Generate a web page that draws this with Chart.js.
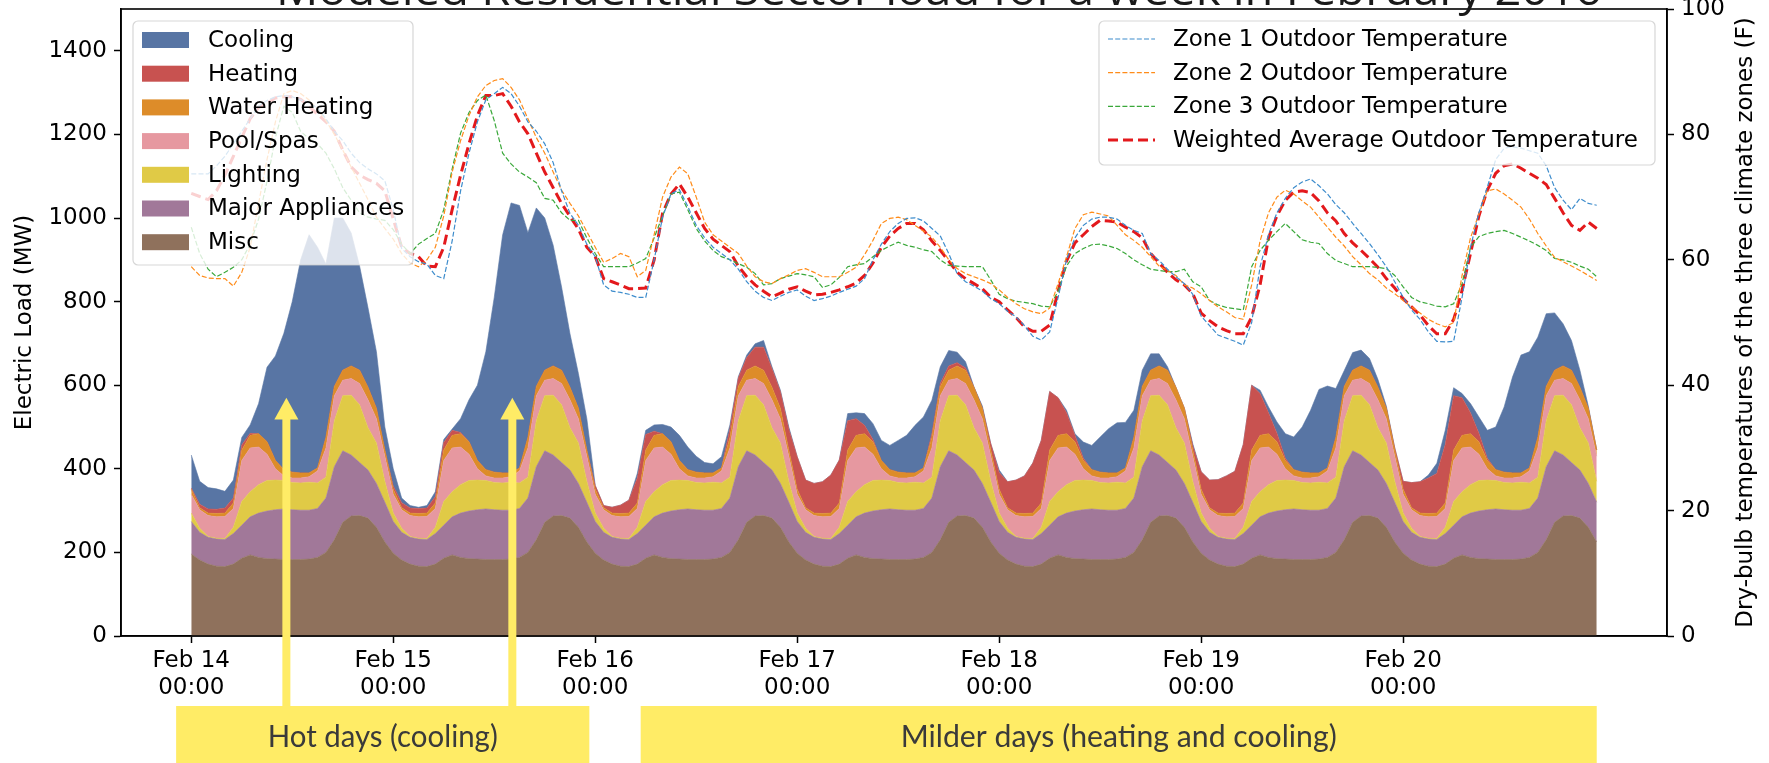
<!DOCTYPE html>
<html>
<head>
<meta charset="utf-8">
<script src="https://cdn.jsdelivr.net/npm/chart.js@4.4.1/dist/chart.umd.min.js"></script>
<style>
  html, body { margin: 0; padding: 0; background: #fff; }
  #wrap { width: 1769px; height: 763px; }
</style>
</head>
<body>
<div id="wrap"><canvas id="loadChart" width="1769" height="763"></canvas></div>
<script>
// hourly values, Feb 14 00:00 .. Feb 20 23:00
const dayLabels = ['Feb 14', 'Feb 15', 'Feb 16', 'Feb 17', 'Feb 18', 'Feb 19', 'Feb 20'];
const dayTicks = [0, 24, 48, 72, 96, 120, 144];
const hours = Array.from({ length: 168 }, (_, i) => i);

// stacked load components (MW)
const misc = [
  196,182,172,167,166,172,186,194,188,185,184,183,183,183,184,188,200,230,272,287,288,282,260,225,
  198,182,172,167,166,172,186,194,188,185,184,183,183,183,184,188,200,230,272,287,288,282,260,225,
  198,182,172,167,166,172,186,194,188,185,184,183,183,183,184,188,200,230,272,287,288,282,260,225,
  198,182,172,167,166,172,186,194,188,185,184,183,183,183,184,188,200,230,272,287,288,282,260,225,
  198,182,172,167,166,172,186,194,188,185,184,183,183,183,184,188,200,230,272,287,288,282,260,225,
  198,182,172,167,166,172,186,194,188,185,184,183,183,183,184,188,200,230,272,287,288,282,260,225,
  198,182,172,167,166,172,186,194,188,185,184,183,183,183,184,188,200,230,272,287,288,282,260,225
];
const appliances = [
  78,66,64,65,65,73,79,91,106,114,118,121,119,118,117,117,130,175,171,146,127,115,105,95,
  76,66,64,65,65,73,79,91,106,114,118,121,119,118,117,117,130,175,171,146,127,115,105,95,
  76,66,64,65,65,73,79,91,106,114,118,121,119,118,117,117,130,175,171,146,127,115,105,95,
  76,66,64,65,65,73,79,91,106,114,118,121,119,118,117,117,130,175,171,146,127,115,105,95,
  76,66,64,65,65,73,79,91,106,114,118,121,119,118,117,117,130,175,171,146,127,115,105,95,
  76,66,64,65,65,73,79,91,106,114,118,121,119,118,117,117,130,175,171,146,127,115,105,95,
  76,66,64,65,65,73,79,91,106,114,118,121,119,118,117,117,130,175,171,146,127,115,105,95
];
const lighting = [
  20,10,2,2,2,15,57,60,68,73,71,68,65,65,67,61,50,110,132,143,138,101,97,50,
  20,10,2,2,2,15,57,60,68,73,71,68,65,65,67,61,50,110,132,143,138,101,97,50,
  20,10,2,2,2,15,57,60,68,73,71,68,65,65,67,61,50,110,132,143,138,101,97,50,
  20,10,2,2,2,15,57,60,68,73,71,68,65,65,67,61,50,110,132,143,138,101,97,50,
  20,10,2,2,2,15,57,60,68,73,71,68,65,65,67,61,50,110,132,143,138,101,97,50,
  20,10,2,2,2,15,57,60,68,73,71,68,65,65,67,61,50,110,132,143,138,101,97,50,
  20,10,2,2,2,15,57,60,68,73,71,68,65,65,67,61,50,110,132,143,138,101,97,50
];
const poolSpas = [
  45,44,50,51,53,45,98,105,90,63,27,11,11,12,13,29,70,60,37,40,51,67,58,60,
  45,44,50,51,53,45,98,105,90,63,27,11,11,12,13,29,70,60,37,40,51,67,58,60,
  45,44,50,51,53,45,98,105,90,63,27,11,11,12,13,29,70,60,37,40,51,67,58,60,
  45,44,50,51,53,45,98,105,90,63,27,11,11,12,13,29,70,60,37,40,51,67,58,60,
  45,44,50,51,53,45,98,105,90,63,27,11,11,12,13,29,70,60,37,40,51,67,58,60,
  45,44,50,51,53,45,98,105,90,63,27,11,11,12,13,29,70,60,37,40,51,67,58,60,
  45,44,50,51,53,45,98,105,90,63,27,11,11,12,13,29,70,60,37,40,51,67,58,60
];
const waterHeating = [
  12,5,6,8,8,13,25,30,32,30,20,15,14,12,9,7,25,22,24,30,32,30,25,15,
  12,5,6,8,8,13,25,30,32,30,20,15,14,12,9,7,25,22,24,30,32,30,25,15,
  12,5,6,8,8,13,25,30,32,30,20,15,14,12,9,7,25,22,24,30,32,30,25,15,
  12,5,6,8,8,13,25,30,32,30,20,15,14,12,9,7,25,22,24,30,32,30,25,15,
  12,5,6,8,8,13,25,30,32,30,20,15,14,12,9,7,25,22,24,30,32,30,25,15,
  12,5,6,8,8,13,25,30,32,30,20,15,14,12,9,7,25,22,24,30,32,30,25,15,
  12,5,6,8,8,13,25,30,32,30,20,15,14,12,9,7,25,22,24,30,32,30,25,15
];
const heating = [
  3,8,10,10,12,12,12,5,0,0,0,0,0,0,0,0,0,0,0,0,0,0,0,0,
  8,12,12,12,12,15,18,12,3,0,0,0,0,0,0,0,0,0,0,0,0,0,0,0,
  9,5,14,20,31,60,37,10,0,0,0,0,0,0,0,0,20,20,30,45,55,45,40,50,
  78,66,71,76,91,103,70,40,20,5,0,0,0,0,0,0,9,7,10,8,5,0,0,15,
  40,62,79,90,120,150,140,90,50,15,5,0,0,0,0,0,0,0,0,0,0,0,0,10,
  42,66,80,90,100,140,155,100,50,20,5,0,0,0,0,0,0,0,0,0,0,0,0,5,
  19,60,75,85,95,140,130,90,50,20,5,0,0,0,0,0,0,0,0,0,0,0,0,0
];
const cooling = [
  79,55,51,49,40,43,18,20,72,178,250,326,408,510,570,528,415,403,364,318,249,190,135,55,
  41,11,6,3,6,12,7,3,33,100,180,282,418,570,646,628,490,427,364,289,199,128,83,75,
  0,0,0,0,0,11,10,15,22,35,60,54,38,25,22,27,10,3,6,8,16,4,3,5,
  0,0,0,0,0,0,17,14,28,38,48,58,76,90,114,122,80,40,37,25,15,1,5,0,
  6,0,0,0,0,0,0,0,6,4,39,58,84,106,120,109,65,39,39,29,8,0,0,5,
  0,0,0,0,0,0,0,8,14,27,59,78,108,150,200,196,117,38,42,38,28,19,5,0,
  0,0,0,7,24,34,19,10,22,39,67,102,156,230,282,278,240,174,137,101,71,41,5,0
];

// outdoor dry-bulb temperatures (F)
const zone1Temp = [
  73.7,73.7,73.7,75,76.5,78.5,80.5,82.5,84.5,85.4,86,86.2,86,85.5,85,84.2,82.5,80.5,79,77,75.5,74.5,73.7,72.6,
  68,61.8,60.5,59.7,59.3,57.5,57,63,71,77,82,85.5,86.5,87.5,86.5,84.5,82,80.5,78.5,75.5,71,67.4,65.5,62.5,
  60.5,56,55,54.8,54.5,54,54,60,66.8,70.5,71.2,68.5,65.5,63.5,62,61,60,58.5,56.5,55,54,53.5,54.2,54.8,
  55.2,54.2,53.5,53.8,54.2,54.8,55.3,55.8,57,60,62.5,64.5,65.8,66.6,66.7,66.2,65,63.8,61,57.8,56.5,55.8,55,53.8,
  53,51.8,50.9,49.5,47.8,47.2,48.5,54,60,63.5,65.5,66.5,66.8,66.8,66.5,65.5,64.7,64.2,61,59.9,58.5,57.3,56.2,54.5,
  51,49.5,48,47.5,47,46.4,50,58.9,64,67.5,69.8,71.5,72.4,72.9,71.8,70.5,68.8,67.5,65.8,64.2,62.6,60.8,58.9,56.5,
  54,52,50.5,48.5,47,46.9,47,54,62,67.5,71.6,76,77.8,78,77.8,77.4,77,75,71.5,69.5,68,69.8,69,68.7
];
const zone2Temp = [
  58.9,57.5,57.1,57,57,55.8,58,62,69,76,82,86.5,87,86.5,85.5,84,82.2,80,77.5,74.8,72.2,69.6,66.8,65,
  63.3,61,59.5,58.9,60,62,67,74,79,83,86,87.8,88.6,88.9,87.5,85.5,82.5,79.5,77,74,71.1,69,67,64.5,
  62,59.6,60.2,61,60.5,57.3,58.3,64,70,73.2,74.8,73.7,70,66,64,63,62,61,59,57.3,56.5,56.2,57,57.6,
  58.3,58.6,58,57.3,57.3,57.3,58,58.8,60.8,63.1,65.8,66.6,66.8,66.4,65.5,64.6,63.6,62,60,58.6,57.8,57.3,56.8,56.2,
  55.2,54,53,52.2,51.7,51.4,52.3,56.2,60.5,65,67.2,67.6,67.3,67,65.5,64,63.1,62,60.5,59,58.3,57.5,56,55.5,
  54.6,53.5,52.5,51.7,50.8,50.5,56,63,67.5,70,71.1,70.5,69.4,68.4,66.8,65.2,63.6,62.2,60.5,59.2,57.8,56.8,55.5,54.6,
  53.5,52.5,51.5,50.5,49.8,49.3,50,57.5,63.5,67.3,71,71.3,70.5,69.5,68.4,66.5,64.2,62.2,60.4,59.7,59,58.3,57.5,56.7
];
const zone3Temp = [
  65.2,61,58.5,57.3,58,58.8,60,62.5,66.5,72.5,79.5,84.5,83.5,80.5,79.3,78.5,77,74.5,71.5,69.5,67.5,66.8,66.5,66.3,
  64.8,62.5,61,62.5,63.4,64.2,68,74.5,80.2,83.5,85.4,86.3,82.2,77,75.3,74,73.2,72.3,69.8,69.5,67.5,66.3,66.3,63.5,
  61,58.9,58.9,58.9,58.9,59.5,60.2,63.5,67,70.5,70.8,68,65,63,61.5,60.5,60,59.4,58.8,57.8,56,56.2,57,57.4,
  57.8,57.6,57.3,55.6,56,57.2,58.9,59.2,59.4,60.5,61.5,62.2,62.8,62.3,62,61.6,61.3,60,59.1,59,58.9,58.9,58.9,56.8,
  54.5,53.8,53.4,53.2,53,52.6,52.5,55,59,61,61.8,62.4,62.5,62.2,61.8,61,60,59.2,58.5,58.3,58.1,58.1,58.5,56.5,
  55.7,53.5,52.8,52.4,52.2,52,58.9,61.5,63.1,64.5,65.8,64.5,63.2,62.8,62.6,61,59.9,59.4,58.9,58.9,58.9,58.8,58.6,57.5,
  55.7,54,53.3,53,52.6,52.5,53,56.2,62,63.7,64.2,64.5,64.7,64.2,63.6,63,62.3,61.5,60.2,60,59.6,59,58.5,57.3
];
const weightedTemp = [
  70.6,70.1,69.6,71,73.5,76.5,79.5,82.5,84.3,85,85.8,86,86,85.6,84.5,83.2,82,80.5,77.5,74.8,73.5,72.8,72.2,71,
  66.5,62,61,60.5,59,58.9,62,68,73.5,78.5,83,86.2,86.2,86.5,84.5,82,80.1,77,74,71.5,69,66.9,64.9,62,
  60.5,57,56.5,56,55.4,55.4,55.5,60,67.4,70.5,72.1,70,67.5,65,63.3,62.3,61.3,59,57.3,56,55,54.1,54.7,55.3,
  55.7,55,54.4,54.5,54.8,55.2,55.7,56.3,57.5,59.5,62,63.8,65,65.8,65.8,64.8,63,61.5,59.8,58,57,56.2,55.4,54,
  53.3,52,50.8,49.3,48.6,48.6,49.6,55,59.8,62.7,64,65.3,66.3,66.2,66,65.2,64.5,63.5,61,59.5,58,56.8,56,54.6,
  51.5,50.3,49.3,48.7,48.2,48.2,50.9,56,63.5,67,69.5,70.8,71,70.7,69.4,67.5,66.2,64.2,62.7,61.5,60.2,58.8,57,55.5,
  53.8,52.5,51.2,49.5,48.2,48.2,50.5,55.1,61,67,71.1,73.8,75,75.3,74.6,73.8,73,72,69.8,67.5,65.5,64.7,66,65
];

// annotation ranges (hours) below the axis
const periodNames = ['Hot days (cooling)', 'Milder days (heating and cooling)'];
const periodStart = [-1.8, 53.4];
const periodEnd = [47.3, 167];
const arrowHours = [11.3, 38.15];

const FONT = 'DejaVu Sans';
const rightTitle = 'Dry-bulb temperatures of the three climate zones (F)';

function area(label, values, color, fill) {
  return {
    label: label, data: values, yAxisID: 'y', order: 1,
    backgroundColor: color, borderColor: color, borderWidth: 0.6,
    fill: fill, pointRadius: 0, pointHoverRadius: 0, tension: 0
  };
}
function tempLine(label, values, color, width, dash) {
  return {
    label: label, data: values, yAxisID: 'y2', order: 0,
    borderColor: color, backgroundColor: color, borderWidth: width, borderDash: dash,
    fill: false, pointRadius: 0, pointHoverRadius: 0, tension: 0
  };
}

function roundRect(ctx, x, y, w, h, r) {
  ctx.beginPath();
  ctx.moveTo(x + r, y);
  ctx.arcTo(x + w, y, x + w, y + h, r);
  ctx.arcTo(x + w, y + h, x, y + h, r);
  ctx.arcTo(x, y + h, x, y, r);
  ctx.arcTo(x, y, x + w, y, r);
  ctx.closePath();
}

function fitText(ctx, text, cx, cy, width) {
  const w = ctx.measureText(text).width;
  ctx.save();
  ctx.translate(cx, cy);
  ctx.scale(width / w, 1);
  ctx.fillText(text, 0, 0);
  ctx.restore();
}

const overlay = {
  id: 'overlay',
  afterDraw(chart) {
    const ctx = chart.ctx;
    const a = chart.chartArea;
    const xs = chart.scales.x, ys = chart.scales.y;
    const ds = chart.data.datasets;
    ctx.save();

    // frame
    ctx.strokeStyle = '#000';
    ctx.lineWidth = 1.6;
    ctx.strokeRect(a.left, a.top, a.right - a.left, a.bottom - a.top);

    // right axis title, reading bottom to top
    ctx.font = '23px "' + FONT + '"';
    ctx.fillStyle = '#000';
    ctx.textAlign = 'center';
    ctx.textBaseline = 'middle';
    ctx.save();
    ctx.translate(1746, (a.top + a.bottom) / 2);
    ctx.rotate(-Math.PI / 2);
    ctx.fillText(rightTitle, 0, 0);
    ctx.restore();

    // legend of load components
    ctx.textAlign = 'left';
    let lx = a.left + 12, ly = a.top + 12;
    roundRect(ctx, lx, ly, 280, 244, 5);
    ctx.fillStyle = 'rgba(255,255,255,0.8)';
    ctx.fill();
    ctx.strokeStyle = 'rgba(204,204,204,0.8)';
    ctx.lineWidth = 1.2;
    ctx.stroke();
    const stackItems = ds.filter(d => d.yAxisID === 'y').reverse();
    stackItems.forEach((d, i) => {
      const cy = ly + 19 + i * 33.7;
      ctx.fillStyle = d.backgroundColor;
      ctx.fillRect(lx + 9, cy - 8, 47, 16);
      ctx.fillStyle = '#000';
      ctx.fillText(d.label, lx + 75, cy + 1);
    });

    // legend of temperatures
    const lw = 556;
    lx = a.right - 12 - lw;
    roundRect(ctx, lx, ly, lw, 144, 5);
    ctx.fillStyle = 'rgba(255,255,255,0.8)';
    ctx.fill();
    ctx.strokeStyle = 'rgba(204,204,204,0.8)';
    ctx.lineWidth = 1.2;
    ctx.stroke();
    ds.filter(d => d.yAxisID === 'y2').forEach((d, i) => {
      const cy = ly + 18 + i * 33.7;
      ctx.strokeStyle = d.borderColor;
      ctx.lineWidth = d.borderWidth;
      ctx.setLineDash(d.borderDash);
      ctx.beginPath();
      ctx.moveTo(lx + 9, cy);
      ctx.lineTo(lx + 56, cy);
      ctx.stroke();
      ctx.setLineDash([]);
      ctx.fillStyle = '#000';
      ctx.fillText(d.label, lx + 74, cy + 1);
    });

    // yellow period boxes and arrows
    const boxTop = a.bottom + 70;
    ctx.fillStyle = '#FFEC66';
    periodNames.forEach((name, i) => {
      const x0 = xs.getPixelForValue(periodStart[i]);
      const x1 = xs.getPixelForValue(periodEnd[i]);
      ctx.fillRect(x0, boxTop, x1 - x0, chart.height - boxTop);
    });
    const tipY = ys.getPixelForValue(570), headY = ys.getPixelForValue(518);
    arrowHours.forEach(h => {
      const px = xs.getPixelForValue(h);
      ctx.fillRect(px - 4, headY - 1, 8, boxTop - headY + 1);
      ctx.beginPath();
      ctx.moveTo(px - 12, headY);
      ctx.lineTo(px + 12, headY);
      ctx.lineTo(px, tipY);
      ctx.closePath();
      ctx.fill();
    });
    ctx.fillStyle = '#3a3a3a';
    ctx.textAlign = 'center';
    ctx.font = '30px Lato';
    const textWidths = [230, 436];
    periodNames.forEach((name, i) => {
      const x0 = xs.getPixelForValue(periodStart[i]);
      const x1 = xs.getPixelForValue(periodEnd[i]);
      fitText(ctx, name, (x0 + x1) / 2, boxTop + 31, textWidths[i]);
    });

    // title, mostly above the top edge
    ctx.fillStyle = '#1a1a1a';
    ctx.font = '44px "Open Sans"';
    ctx.textBaseline = 'alphabetic';
    fitText(ctx, 'Modeled Residential Sector load for a week in February 2016', 939, 5, 1326);

    ctx.restore();
  }
};

new Chart(document.getElementById('loadChart'), {
  type: 'line',
  data: {
    labels: hours,
    datasets: [
      area('Misc', misc, '#8F715C', 'origin'),
      area('Major Appliances', appliances, '#A17899', '-1'),
      area('Lighting', lighting, '#E0CA46', '-1'),
      area('Pool/Spas', poolSpas, '#E698A0', '-1'),
      area('Water Heating', waterHeating, '#DD8C29', '-1'),
      area('Heating', heating, '#C85250', '-1'),
      area('Cooling', cooling, '#5875A4', '-1'),
      tempLine('Zone 1 Outdoor Temperature', zone1Temp, '#3d8ccc', 1.2, [5, 2.2]),
      tempLine('Zone 2 Outdoor Temperature', zone2Temp, '#ff8c1a', 1.2, [5, 2.2]),
      tempLine('Zone 3 Outdoor Temperature', zone3Temp, '#3aa83a', 1.2, [5, 2.2]),
      tempLine('Weighted Average Outdoor Temperature', weightedTemp, '#e3191c', 3, [10, 5])
    ]
  },
  options: {
    responsive: false,
    animation: false,
    devicePixelRatio: 1,
    layout: { padding: { top: 9, left: 0, right: 0, bottom: 0 } },
    plugins: {
      legend: { display: false },
      tooltip: { enabled: false },
      title: { display: false }
    },
    scales: {
      x: {
        type: 'linear', min: -8.35, max: 175.35,
        afterBuildTicks: s => { s.ticks = dayTicks.map(v => ({ value: v })); },
        afterFit: s => { s.height = 127; s.paddingLeft = 0; s.paddingRight = 0; },
        ticks: {
          callback: v => [dayLabels[dayTicks.indexOf(v)], '00:00'],
          font: { family: FONT, size: 23, lineHeight: 1.15 }, color: '#000',
          padding: 5, maxRotation: 0, autoSkip: false
        },
        grid: { display: true, drawOnChartArea: false, drawTicks: true, tickLength: 7, tickWidth: 1.5, tickColor: '#000' },
        border: { display: true, color: '#000', width: 1.6 }
      },
      y: {
        position: 'left', stacked: true, min: 0, max: 1500,
        afterBuildTicks: s => { s.ticks = [0, 200, 400, 600, 800, 1000, 1200, 1400].map(v => ({ value: v })); },
        afterFit: s => { s.width = 121; s.paddingTop = 0; s.paddingBottom = 0; },
        ticks: { callback: v => String(v), font: { family: FONT, size: 23 }, color: '#000', padding: 7 },
        grid: { display: true, drawOnChartArea: false, drawTicks: true, tickLength: 7, tickWidth: 1.5, tickColor: '#000' },
        border: { display: true, color: '#000', width: 1.6 },
        title: { display: true, text: 'Electric Load (MW)', font: { family: FONT, size: 23, lineHeight: 1.2 }, color: '#000', padding: { top: 11, bottom: 0 } }
      },
      y2: {
        position: 'right', min: 0, max: 100,
        afterBuildTicks: s => { s.ticks = [0, 20, 40, 60, 80, 100].map(v => ({ value: v })); },
        afterFit: s => { s.width = 102; s.paddingTop = 0; s.paddingBottom = 0; },
        ticks: { callback: v => String(v), font: { family: FONT, size: 23 }, color: '#000', padding: 7 },
        grid: { display: true, drawOnChartArea: false, drawTicks: true, tickLength: 7, tickWidth: 1.5, tickColor: '#000' },
        border: { display: true, color: '#000', width: 1.6 }
      }
    }
  },
  plugins: [overlay]
});
</script>
</body>
</html>
